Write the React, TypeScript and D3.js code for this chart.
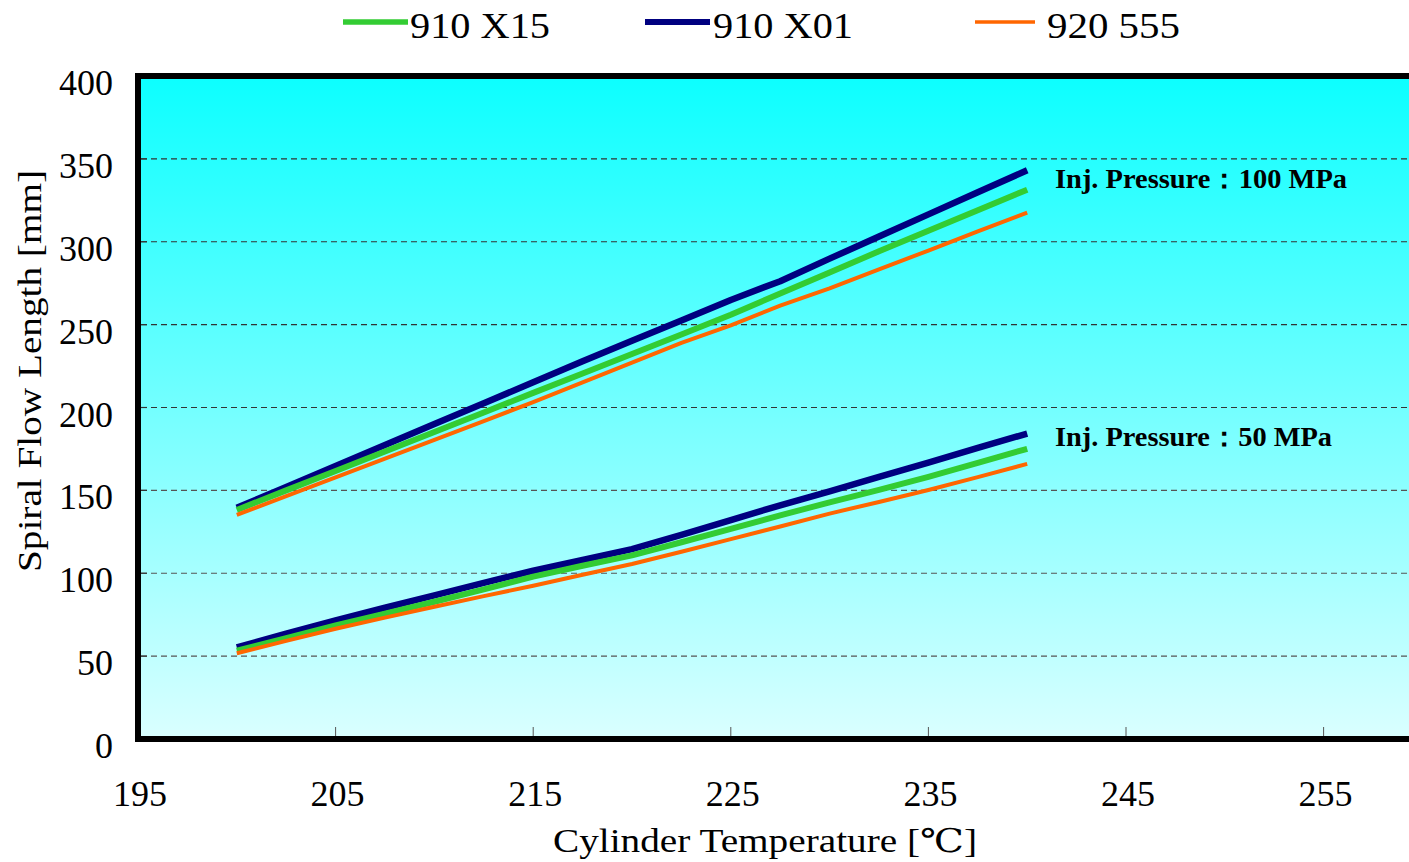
import React from "react";
import * as d3 from "d3";

const temps = [200, 202.5, 205, 207.5, 210, 212.5, 215, 217.5, 220, 222.5, 225, 227.5, 230, 232.5, 235, 237.5, 240];

const x15_100 = [138.2, 150, 161.7, 173.5, 185.2, 197, 208.8, 220.5, 232.3, 244, 256, 268.8, 281.5, 294.2, 306.6, 319, 331.4];
const x01_100 = [139.5, 152.1, 164.7, 177.4, 190, 202.6, 215.2, 227.9, 240.3, 252.5, 264.9, 276.2, 289.8, 303.2, 316.5, 329.9, 343.1];
const s555_100 = [135.2, 146.5, 157.9, 169.2, 180.5, 191.8, 203.3, 215.2, 227.1, 239, 249.6, 261.5, 271.9, 283.3, 294.7, 306.2, 317.6];

const x15_50 = [53.3, 60.8, 68.5, 75.6, 82.8, 90.3, 98, 104.5, 110.8, 118.7, 126.8, 134.9, 142.8, 150.3, 158.2, 166.6, 175.1];
const x01_50 = [55.3, 63.5, 71.6, 79.2, 86.7, 94.2, 101.5, 108, 114.6, 123.2, 132.1, 141, 149.4, 158.1, 166.8, 175.6, 184.3];
const s555_50 = [51.7, 59.2, 66.5, 73.2, 79.8, 86.2, 92.5, 99.1, 105.6, 113, 120.6, 128.2, 136, 143, 150.2, 158, 166];

const xTicks = [195, 205, 215, 225, 235, 245, 255];
const yTicks = [0, 50, 100, 150, 200, 250, 300, 350, 400];
const gridValues = [50, 100, 150, 200, 250, 300, 350];

const seriesNames = ["910 X15", "910 X01", "920 555"];
const seriesColors = ["#33CC33", "#000080", "#FF6600"];
const seriesWidths = [6, 6.5, 4];

const annotations = ["Inj. Pressure：100 MPa", "Inj. Pressure：50 MPa"];

export default function App() {
  const W = 1409;
  const H = 862;
  const x = d3.scaleLinear().domain([195, 260]).range([138, 1422.4]);
  const y = d3.scaleLinear().domain([0, 400]).range([739, 76]);

  const line = d3
    .line<[number, number]>()
    .x((d) => x(d[0]))
    .y((d) => y(d[1]));

  const mk = (vals: number[]) => line(temps.map((t, i) => [t, vals[i]] as [number, number])) || "";

  // draw order: navy, green, orange
  const drawSeries = [
    { vals: [x01_100, x01_50], idx: 1 },
    { vals: [x15_100, x15_50], idx: 0 },
    { vals: [s555_100, s555_50], idx: 2 },
  ];

  const legendLayout = [
    { x1: 343, x2: 408, tx: 410, tw: 140 },
    { x1: 645, x2: 710, tx: 713, tw: 140 },
    { x1: 975, x2: 1035, tx: 1047, tw: 133 },
  ];
  const legendWidths = [5.5, 6, 3.5];

  const serif = "'Liberation Serif', 'DejaVu Serif', serif";

  return (
    <svg
      width={W}
      height={H}
      style={{ position: "absolute", left: 0, top: 0, background: "#fff" }}
      fontFamily={serif}
    >
      <defs>
        <linearGradient id="bg" x1="0" y1="0" x2="0" y2="1">
          <stop offset="0%" stopColor="#0CFFFF" />
          <stop offset="100%" stopColor="#DAFFFF" />
        </linearGradient>
      </defs>

      <rect
        x={x(195)}
        y={y(400)}
        width={x(260) - x(195)}
        height={y(0) - y(400)}
        fill="url(#bg)"
      />

      {gridValues.map((v) => (
        <line
          key={"g" + v}
          x1={x(195) + 3}
          x2={W}
          y1={y(v)}
          y2={y(v)}
          stroke={v < 200 ? "#555" : "#333"}
          strokeWidth={1.1}
          strokeDasharray="6 4"
        />
      ))}
      {gridValues.map((v) => (
        <line key={"yt" + v} x1={x(195)} x2={x(195) + 9} y1={y(v)} y2={y(v)} stroke="#333" strokeWidth={1.2} />
      ))}
      {xTicks.slice(1).map((t) => (
        <line key={"xt" + t} x1={x(t)} x2={x(t)} y1={y(0) - 3} y2={y(0) - 12} stroke="#555" strokeWidth={1} />
      ))}

      {drawSeries.map((s) =>
        s.vals.map((vals, j) => (
          <path
            key={s.idx + "-" + j}
            d={mk(vals)}
            fill="none"
            stroke={seriesColors[s.idx]}
            strokeWidth={seriesWidths[s.idx]}
            strokeLinejoin="round"
          />
        ))
      )}

      <rect
        x={x(195)}
        y={y(400)}
        width={x(260) - x(195)}
        height={y(0) - y(400)}
        fill="none"
        stroke="#000"
        strokeWidth={6}
      />

      {yTicks.map((v) => (
        <text key={"yl" + v} x={113} y={y(v) + 19} textAnchor="end" fontSize={36} fill="#000">
          {v}
        </text>
      ))}
      {xTicks.map((t) => (
        <text key={"xl" + t} x={x(t) + 2} y={806} textAnchor="middle" fontSize={36} fill="#000">
          {t}
        </text>
      ))}

      <text x={553} y={852} fontSize={33} textLength={424} lengthAdjust="spacingAndGlyphs" fill="#000">
        Cylinder Temperature [℃]
      </text>
      <text
        transform="translate(41,572) rotate(-90)"
        x={0}
        y={0}
        fontSize={33}
        textLength={402}
        lengthAdjust="spacingAndGlyphs"
        fill="#000"
      >
        Spiral Flow Length [mm]
      </text>

      <text x={1055} y={188} fontSize={27} fontWeight="bold" textLength={292} lengthAdjust="spacingAndGlyphs" fill="#000">
        {annotations[0]}
      </text>
      <text x={1055} y={446} fontSize={27} fontWeight="bold" textLength={277} lengthAdjust="spacingAndGlyphs" fill="#000">
        {annotations[1]}
      </text>

      {seriesNames.map((n, i) => (
        <g key={"lg" + i}>
          <line
            x1={legendLayout[i].x1}
            x2={legendLayout[i].x2}
            y1={22}
            y2={22}
            stroke={seriesColors[i]}
            strokeWidth={legendWidths[i]}
          />
          <text
            x={legendLayout[i].tx}
            y={38}
            fontSize={36}
            textLength={legendLayout[i].tw}
            lengthAdjust="spacingAndGlyphs"
            fill="#000"
          >
            {n}
          </text>
        </g>
      ))}
    </svg>
  );
}
